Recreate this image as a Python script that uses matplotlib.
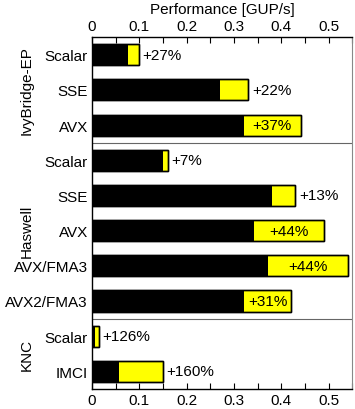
import matplotlib
matplotlib.use('Agg')
import matplotlib.pyplot as plt
from matplotlib.ticker import MultipleLocator

plt.rcParams['font.family'] = ['Liberation Sans', 'DejaVu Sans']
plt.rcParams['font.size'] = 11

# Data
kernels = ['Scalar', 'SSE', 'AVX',
           'Scalar', 'SSE', 'AVX', 'AVX/FMA3', 'AVX2/FMA3',
           'Scalar', 'IMCI']
baseline = [0.077, 0.271, 0.321,
            0.150, 0.381, 0.342, 0.372, 0.321,
            0.0065, 0.0577]
optimized = [0.099, 0.330, 0.441,
             0.160, 0.430, 0.490, 0.541, 0.421,
             0.0148, 0.150]
gains = ['+27%', '+22%', '+37%',
         '+7%', '+13%', '+44%', '+44%', '+31%',
         '+126%', '+160%']
groups = ['IvyBridge-EP', 'Haswell', 'KNC']
group_sizes = [3, 5, 2]

fig = plt.figure(figsize=(3.55, 4.10), dpi=100)
ax = fig.add_axes([0.259, 0.049, 0.733, 0.858])

pos = list(range(len(kernels)))
h = 0.6
ax.barh(pos, optimized, height=h, color='#ffff00', edgecolor='black', linewidth=1.0, zorder=2)
ax.barh(pos, baseline, height=h, color='black', edgecolor='black', linewidth=0, zorder=3)
# redraw outline on top
ax.barh(pos, optimized, height=h, color='none', edgecolor='black', linewidth=1.0, zorder=4)

for y, b, o, g in zip(pos, baseline, optimized, gains):
    if o - b > 0.095:
        ax.text((b + o) / 2, y, g, ha='center', va='center', zorder=5)
    else:
        ax.text(o + 0.008, y, g, ha='left', va='center', zorder=5)

# group separators and labels
start = 0
for name, n in zip(groups, group_sizes):
    end = start + n
    if end < len(kernels):
        ax.axhline(end - 0.5, color='#666666', linewidth=0.8, zorder=1)
    ax.text(-0.25, (start + end - 1) / 2, name, rotation=90, ha='center', va='center',
            transform=ax.get_yaxis_transform())
    start = end

ax.set_ylim(len(kernels) - 0.5, -0.5)
ax.set_xlim(0, 0.55)
ax.set_yticks(pos)
ax.set_yticklabels(kernels)
ax.tick_params(axis='y', length=0, pad=3)

ax.xaxis.set_major_locator(MultipleLocator(0.1))
ax.xaxis.set_minor_locator(MultipleLocator(0.05))
ax.set_xticks([0, 0.1, 0.2, 0.3, 0.4, 0.5])
ax.set_xticklabels(['0', '0.1', '0.2', '0.3', '0.4', '0.5'])
ax.tick_params(axis='x', which='both', direction='in', top=True, bottom=True,
               labeltop=True, labelbottom=True, length=4, width=0.8, pad=3)
ax.xaxis.set_label_position('top')
ax.set_xlabel('Performance [GUP/s]', labelpad=4)

ax.spines['right'].set_color('#888888')
for s in ['left', 'top', 'bottom']:
    ax.spines[s].set_linewidth(1.0)

fig.savefig('out.png', dpi=100)
